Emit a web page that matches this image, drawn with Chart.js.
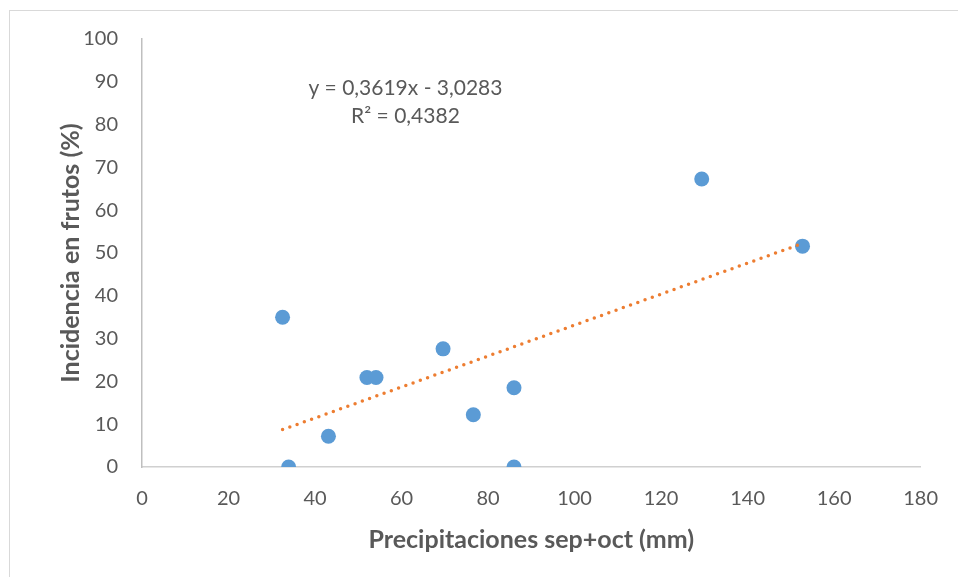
<!DOCTYPE html>
<html>
<head>
<meta charset="utf-8">
<script src="https://cdn.jsdelivr.net/npm/chart.js@4.4.1/dist/chart.umd.min.js"></script>
<style>
  body { margin: 0; background: #fff; }
  #wrap { position: absolute; left: 0; top: 0; width: 958px; height: 577px; }
  #frame { position: absolute; left: 9px; top: 10px; width: 980px; height: 600px; border: 1px solid #d9d9d9; }
</style>
</head>
<body>
<div id="wrap">
  <div id="frame"></div>
  <canvas id="chart" width="958" height="577"></canvas>
</div>
<script>
// precipitaciones sep+oct (mm) vs incidencia en frutos (%)
const precip = [32.5, 33.9, 43.1, 52.0, 54.1, 69.6, 76.6, 86.0, 86.0, 129.4, 152.7];
const incidencia = [35.0, 0, 7.2, 20.9, 20.9, 27.6, 12.2, 18.5, 0, 67.3, 51.6];

// trend line as printed on the chart
const slope = 0.3619;
const intercept = -3.0283;
const eqLines = ['y = 0,3619x - 3,0283', 'R² = 0,4382'];

const xTicks = [0, 20, 40, 60, 80, 100, 120, 140, 160, 180];
const yTicks = [0, 10, 20, 30, 40, 50, 60, 70, 80, 90, 100];

const points = precip.map((x, i) => ({ x: x, y: incidencia[i] }));
const xMin = Math.min(...precip), xMax = Math.max(...precip);
const trend = [
  { x: xMin, y: slope * xMin + intercept },
  { x: xMax, y: slope * xMax + intercept }
];

const textColor = '#595959';
const fontFam = 'Lato, "Open Sans", sans-serif';

const equationLabel = {
  id: 'equationLabel',
  afterDatasetsDraw(chart) {
    const { ctx, scales } = chart;
    const cx = scales.x.getPixelForValue(60.9);
    ctx.save();
    ctx.fillStyle = textColor;
    ctx.font = '21px ' + fontFam;
    ctx.textAlign = 'center';
    ctx.textBaseline = 'middle';
    ctx.fillText(eqLines[0], cx, scales.y.getPixelForValue(88.6));
    ctx.fillText(eqLines[1], cx, scales.y.getPixelForValue(82.0));
    ctx.restore();
  }
};

new Chart(document.getElementById('chart'), {
  type: 'scatter',
  data: {
    datasets: [
      {
        label: 'Incidencia',
        data: points,
        backgroundColor: '#5b9bd5',
        borderColor: '#5b9bd5',
        pointRadius: 7.5,
        pointBorderWidth: 0,
        order: 1
      },
      {
        label: 'Lineal',
        type: 'line',
        data: trend,
        borderColor: '#ed7d31',
        borderWidth: 3.5,
        borderDash: [0, 7.7],
        borderCapStyle: 'round',
        pointRadius: 0,
        fill: false,
        order: 0
      }
    ]
  },
  options: {
    responsive: false,
    animation: false,
    layout: { padding: { left: 0, right: 36, top: 39, bottom: 0 } },
    plugins: { legend: { display: false }, tooltip: { enabled: false } },
    scales: {
      x: {
        type: 'linear',
        min: 0,
        max: 180,
        afterBuildTicks: s => { s.ticks = xTicks.map(v => ({ value: v })); },
        afterFit: s => { s.height = 110; },
        grid: { display: false, drawTicks: false },
        border: { display: true, color: '#d0d0d0', width: 1.5 },
        ticks: { color: textColor, padding: 20, font: { family: fontFam, size: 20 } },
        title: {
          display: true,
          text: 'Precipitaciones sep+oct (mm)',
          color: textColor,
          font: { family: fontFam, size: 25, weight: 'bold' },
          padding: { top: 0, bottom: 22 }
        }
      },
      y: {
        min: 0,
        max: 100,
        afterBuildTicks: s => { s.ticks = yTicks.map(v => ({ value: v })); },
        afterFit: s => { s.width = 142; },
        grid: { display: false, drawTicks: false },
        border: { display: true, color: '#bfbfbf', width: 1.5 },
        ticks: { color: textColor, padding: 24, font: { family: fontFam, size: 20 } },
        title: {
          display: true,
          text: 'Incidencia en frutos (%)',
          color: textColor,
          font: { family: fontFam, size: 25, weight: 'bold' },
          padding: { top: 56, bottom: 0 }
        }
      }
    }
  },
  plugins: [equationLabel]
});
</script>
</body>
</html>
